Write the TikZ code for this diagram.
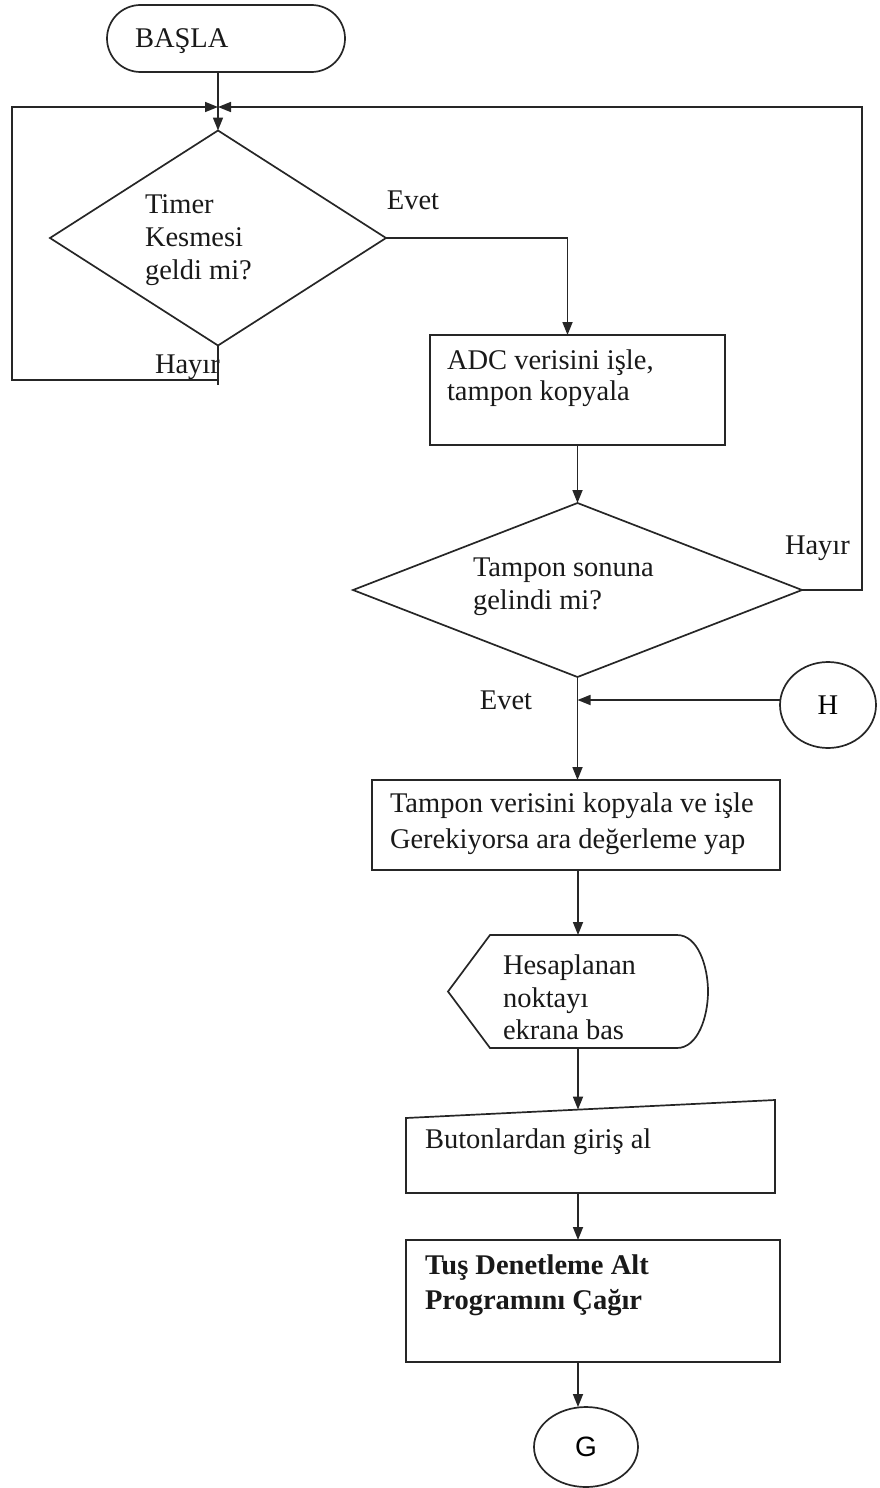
\documentclass[tikz,border=0pt]{standalone}
\usepackage{fontspec}
\setmainfont{Liberation Serif}
\newfontfamily\arialfont{Liberation Sans}
\usetikzlibrary{shapes.geometric,shapes.misc,arrows.meta}

\begin{document}
\begin{tikzpicture}[x=1pt,y=1pt,
  line width=1.7pt, draw=black!85,
  every node/.style={inner sep=0pt, outer sep=0pt},
  procbox/.style={draw, rectangle, minimum width=#1},
  decision/.style={draw, diamond},
  frame/.style={draw=none, rectangle},
  txt/.style={font=\fontsize{28.5}{#1}\selectfont, align=left, anchor=west, text=black!90},
  txt/.default=34,
  lbl/.style={font=\fontsize{28.5}{34}\selectfont, text=black!90},
  arr/.style={-{Triangle[length=13pt,width=10pt]}}
]
\useasboundingbox (0,0) rectangle (880,-1488);

% start terminal
\node[draw, rounded rectangle, minimum width=238, minimum height=67] (basla) at (226,-38.5) {};
\node[txt] (basla-t) at (135,-41) {BAŞLA};

% merge point above the first decision
\coordinate (J) at (218,-107);
\coordinate (lx) at (12,-107);
\coordinate (rx) at (862,-107);
\coordinate (hl) at (218,-380);

% first decision
\node[decision, minimum width=336, minimum height=215] (d1) at (218,-238) {};
\node[txt=33] (d1-t) at (145,-240) {Timer\\Kesmesi\\geldi mi?};
\node[lbl] (evet1) at (413,-200) {Evet};
\node[txt] (hayir1) at (155,-367) {Hayır};

% ADC processing
\node[procbox=295, minimum height=110] (adc) at (577.5,-390) {};
\node[txt=31] (adc-t) at (447,-378.5) {ADC verisini işle,\\tampon kopyala};

% second decision
\node[decision, minimum width=449, minimum height=174] (d2) at (577.5,-590) {};
\node[txt=33] (d2-t) at (473,-586.5) {Tampon sonuna\\gelindi mi?};
\node[txt] (hayir2) at (785,-548) {Hayır};
\node[lbl] (evet2) at (506,-700) {Evet};

% connector H
\node[draw, ellipse, minimum width=96, minimum height=86, font=\fontsize{28.5}{34}\selectfont] (H) at (828,-705) {H\hspace{14pt}};
\coordinate (hin) at (780,-700);

% buffer processing
\node[procbox=408, minimum height=90] (tv) at (576,-825) {};
\node[txt=36] (tv-t) at (390,-824) {Tampon verisini kopyala ve işle\\Gerekiyorsa ara değerleme yap};

% display symbol
\node[frame, minimum width=260, minimum height=113] (disp) at (578,-991.5) {};
\draw (disp.west) -- ([xshift=42]disp.north west) -- ([xshift=-31]disp.north east)
  .. controls ([xshift=-10]disp.north east) and ([yshift=25]disp.east) .. (disp.east)
  .. controls ([yshift=-25]disp.east) and ([xshift=-10]disp.south east) .. ([xshift=-31]disp.south east)
  -- ([xshift=42]disp.south west) -- cycle;
\node[txt=32.5] (disp-t) at (503,-997.5) {Hesaplanan\\noktayı\\ekrana bas};

% manual input symbol
\node[frame, minimum width=369, minimum height=93] (btn) at (590.5,-1146.5) {};
\draw ([yshift=-18]btn.north west) -- (btn.north east) -- (btn.south east) -- (btn.south west) -- cycle;
\coordinate (btntop) at (578,-1109.6);
\node[txt] (btn-t) at (425,-1142) {Butonlardan giriş al};

% subroutine call
\node[procbox=374, minimum height=122] (tus) at (593,-1301) {};
\node[txt=35, font=\fontsize{28.5}{35}\selectfont\bfseries] (tus-t) at (425,-1285.5) {Tuş Denetleme Alt\\Programını Çağır};

% connector G
\node[draw, ellipse, minimum width=104, minimum height=80, font=\arialfont\fontsize{28}{34}\selectfont] (G) at (586,-1447) {G\hspace{12pt}};

% connectors
\draw[arr] (J |- basla.south) -- (d1.north);
\draw (d1.south) -- ([yshift=-5]hl);
\draw[arr] (hl) -- (hl -| lx) -- (lx) -- (J);
\draw[arr] (d2.east) -- (d2.east -| rx) -- (rx) -- (J);
\draw[arr] (d1.east) -| ([xshift=-10]adc.north);
\draw[arr] (adc.south) -- (adc.south |- d2.north);
\draw[arr] (d2.south) -- (d2.south |- tv.north);
\draw[arr] (hin) -- (hin -| d2.south);
\draw[arr] (disp.north |- tv.south) -- (disp.north);
\draw[arr] (disp.south) -- (btntop);
\draw[arr] (btn.south -| disp.south) -- (tus.north -| disp.south);
\draw[arr] (tus.south -| disp.south) -- (G.north -| disp.south);
\end{tikzpicture}
\end{document}
